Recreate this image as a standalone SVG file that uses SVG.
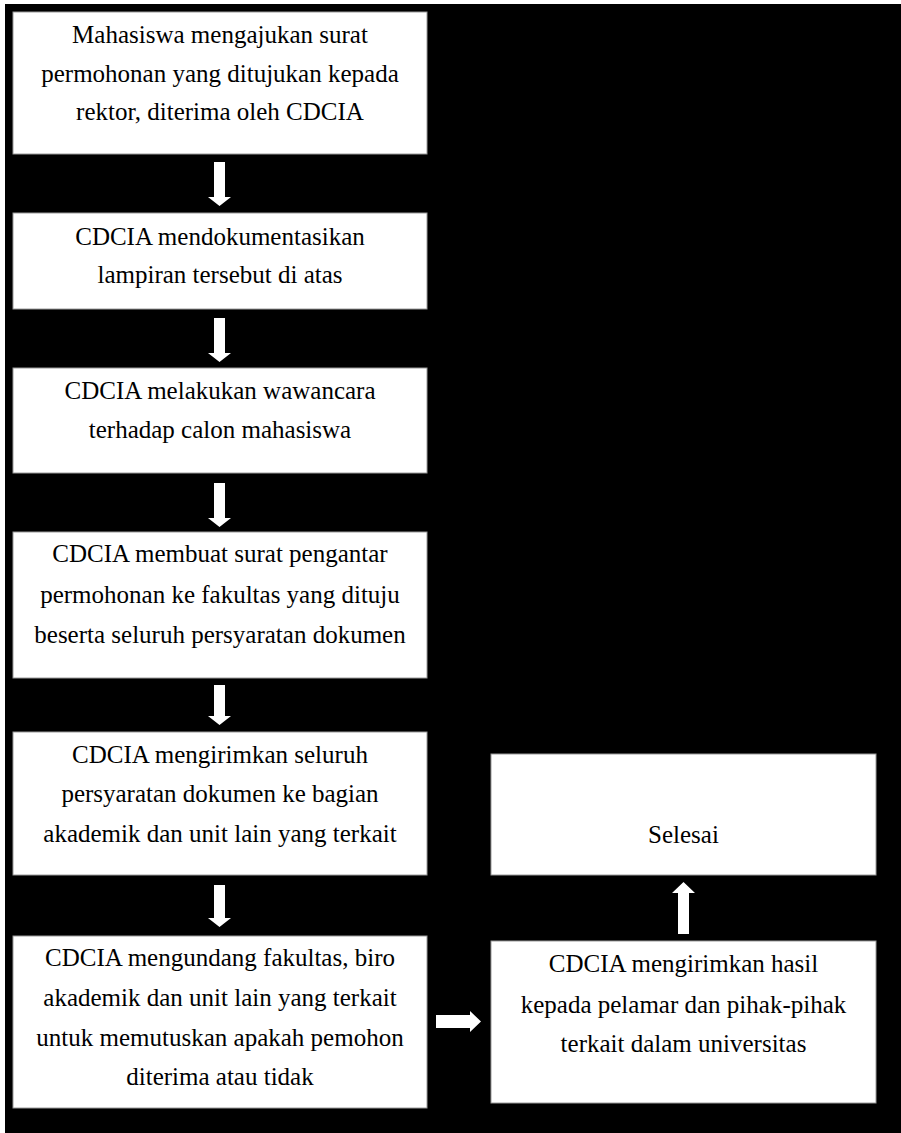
<svg xmlns="http://www.w3.org/2000/svg" width="901" height="1133" viewBox="0 0 901 1133" font-family="Liberation Serif, Times New Roman, serif">
<style>
.box{fill:#fff;stroke:#9a9a9a;stroke-width:1}
text{font-family:"Liberation Serif","Times New Roman",serif;font-size:25px;fill:#000;text-anchor:middle}
.arr{fill:#fff}
</style>
<rect x="0" y="0" width="901" height="1133" fill="#fff"/>
<rect x="5" y="4" width="896" height="1129" fill="#000"/>
<g id="n1"><rect class="box" x="13" y="12" width="414" height="142"/>
<text x="220" y="43">Mahasiswa mengajukan surat</text>
<text x="220" y="82">permohonan yang ditujukan kepada</text>
<text x="220" y="120">rektor, diterima oleh CDCIA</text></g>
<g id="n2"><rect class="box" x="13" y="213" width="414" height="96"/>
<text x="220" y="245">CDCIA mendokumentasikan</text>
<text x="220" y="283">lampiran tersebut di atas</text></g>
<g id="n3"><rect class="box" x="13" y="368" width="414" height="105"/>
<text x="220" y="399">CDCIA melakukan wawancara</text>
<text x="220" y="438">terhadap calon mahasiswa</text></g>
<g id="n4"><rect class="box" x="13" y="532" width="414" height="146"/>
<text x="220" y="562">CDCIA membuat surat pengantar</text>
<text x="220" y="602.5">permohonan ke fakultas yang dituju</text>
<text x="220" y="643">beserta seluruh persyaratan dokumen</text></g>
<g id="n5"><rect class="box" x="13" y="732" width="414" height="143"/>
<text x="220" y="763">CDCIA mengirimkan seluruh</text>
<text x="220" y="802">persyaratan dokumen ke bagian</text>
<text x="220" y="842">akademik dan unit lain yang terkait</text></g>
<g id="n6"><rect class="box" x="13" y="936" width="414" height="172"/>
<text x="220" y="966">CDCIA mengundang fakultas, biro</text>
<text x="220" y="1006">akademik dan unit lain yang terkait</text>
<text x="220" y="1046">untuk memutuskan apakah pemohon</text>
<text x="220" y="1085">diterima atau tidak</text></g>
<g id="n7"><rect class="box" x="491" y="941" width="385" height="162"/>
<text x="683.5" y="972">CDCIA mengirimkan hasil</text>
<text x="683.5" y="1013">kepada pelamar dan pihak-pihak</text>
<text x="683.5" y="1052">terkait dalam universitas</text></g>
<g id="n8"><rect class="box" x="491" y="754" width="385" height="121"/>
<text x="683.5" y="843">Selesai</text></g>
<g id="connectors">
<polygon class="arr" points="214,162 225,162 225,197 231,197 219.5,206 208,197 214,197"/>
<polygon class="arr" points="214,318 225,318 225,353 231,353 219.5,362 208,353 214,353"/>
<polygon class="arr" points="214,483 225,483 225,518 231,518 219.5,527 208,518 214,518"/>
<polygon class="arr" points="214,685 225,685 225,716 231,716 219.5,725 208,716 214,716"/>
<polygon class="arr" points="214,885 225,885 225,918 231,918 219.5,927 208,918 214,918"/>
<polygon class="arr" points="436,1015 470,1015 470,1011 481,1021.5 470,1032 470,1028 436,1028"/>
<polygon class="arr" points="678,934 689,934 689,893 695,893 683.5,882 672,893 678,893"/>
</g>
</svg>
